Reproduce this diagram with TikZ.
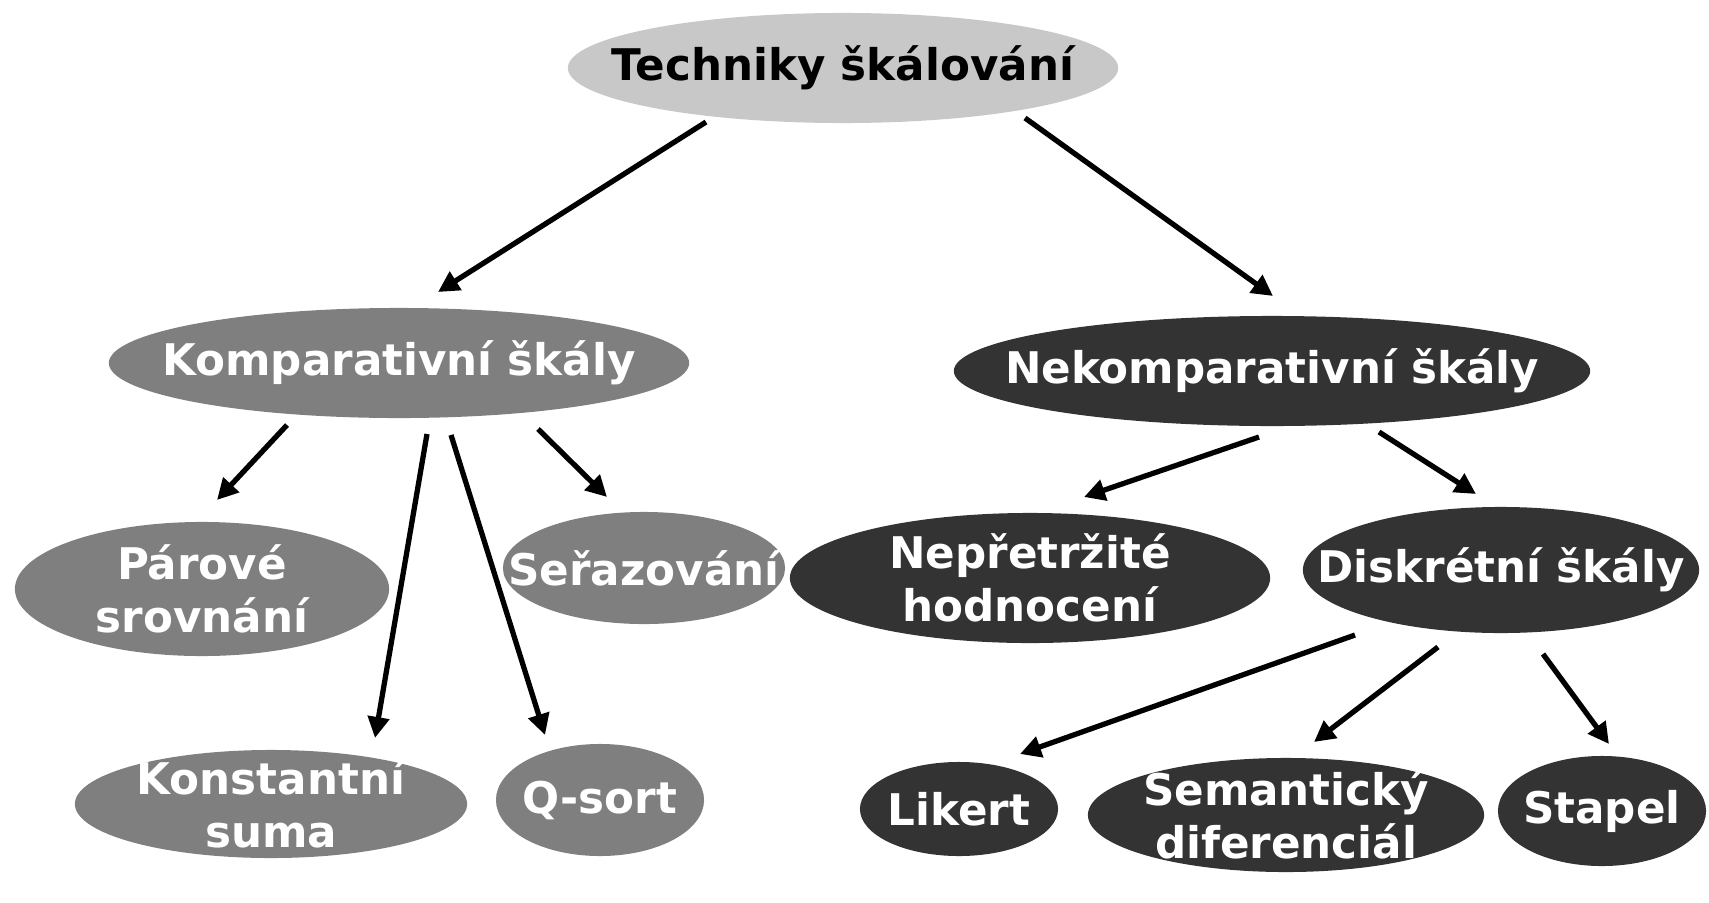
\documentclass[tikz,border=0pt]{standalone}
\usepackage{fontspec}
\setmainfont{DejaVu Sans}
\usepackage{xcolor}
\usepackage{tikz}
\usetikzlibrary{arrows.meta,shapes.geometric}
\definecolor{rootfill}{HTML}{C8C8C8}
\definecolor{compfill}{HTML}{7F7F7F}
\definecolor{ncompfill}{HTML}{333333}

\begin{document}
\begin{tikzpicture}[
  x=0.01cm,y=-0.01cm,
  font=\fontsize{12.4}{15}\selectfont\bfseries,
  ell/.style={ellipse,inner sep=0pt},
  root/.style={ell,fill=rootfill},
  comp/.style={ell,fill=compfill},
  ncomp/.style={ell,fill=ncompfill},
  txt/.style={align=center,inner sep=0pt},
  wtxt/.style={txt,text=white},
  flow/.style={-{Triangle[length=2.1mm,width=2.1mm]},draw=black,line width=1.5pt},
]
\useasboundingbox (0,0) rectangle (1709,903);

% --- root
\node[root,minimum width=5.5cm,minimum height=1.1cm,label={[txt]center:Techniky škálování}] (tech) at (843,68) {};

% --- second level
\node[comp,minimum width=5.8cm,minimum height=1.1cm,label={[wtxt]center:Komparativní škály}] (komp) at (399,363) {};
\node[ncomp,minimum width=6.36cm,minimum height=1.1cm,label={[wtxt]center:Nekomparativní škály}] (nekomp) at (1272,371) {};

% --- comparative scales
\node[comp,minimum width=3.74cm,minimum height=1.34cm,label={[wtxt]center:Párové\\srovnání}] (parove) at (202,589) {};
\node[comp,minimum width=2.82cm,minimum height=1.12cm,label={[wtxt]center:Seřazování}] (serazovani) at (644,568) {};
\node[comp,minimum width=3.92cm,minimum height=1.08cm,label={[wtxt]center:Konstantní\\suma}] (konst) at (271,804) {};
\node[comp,minimum width=2.08cm,minimum height=1.12cm,label={[wtxt]center:Q-sort}] (qsort) at (600,800) {};

% --- non-comparative scales
\node[ncomp,minimum width=4.8cm,minimum height=1.3cm,label={[wtxt]center:Nepřetržité\\hodnocení}] (nepretrzite) at (1030,578) {};
\node[ncomp,minimum width=3.96cm,minimum height=1.26cm,label={[wtxt]center:Diskrétní škály}] (diskretni) at (1501,570) {};
\node[ncomp,minimum width=1.98cm,minimum height=0.94cm,label={[wtxt]center:Likert}] (likert) at (959,809) {};
\node[ncomp,minimum width=3.96cm,minimum height=1.14cm,label={[wtxt]center:Semantický\\diferenciál}] (semanticky) at (1286,815) {};
\node[ncomp,minimum width=2.08cm,minimum height=1.1cm,label={[wtxt]center:Stapel}] (stapel) at (1602,811) {};

\draw[flow] ([shift={(-137,54)}]tech.center) -- ([shift={(39,-71)}]komp.center);
\draw[flow] ([shift={(182,50)}]tech.center) -- ([shift={(1,-75)}]nekomp.center);
\draw[flow] ([shift={(-112,62)}]komp.center) -- ([shift={(15,-89)}]parove.center);
\draw[flow] ([shift={(28,71)}]komp.center) -- ([shift={(104,-66)}]konst.center);
\draw[flow] ([shift={(52,72)}]komp.center) -- ([shift={(-55,-65)}]qsort.center);
\draw[flow] ([shift={(139,66)}]komp.center) -- ([shift={(-37,-71)}]serazovani.center);
\draw[flow] ([shift={(-13,66)}]nekomp.center) -- ([shift={(54,-81)}]nepretrzite.center);
\draw[flow] ([shift={(107,61)}]nekomp.center) -- ([shift={(-25,-76)}]diskretni.center);
\draw[flow] ([shift={(-146,65)}]diskretni.center) -- ([shift={(61,-55)}]likert.center);
\draw[flow] ([shift={(-63,77)}]diskretni.center) -- ([shift={(28,-73)}]semanticky.center);
\draw[flow] ([shift={(42,84)}]diskretni.center) -- ([shift={(7,-67)}]stapel.center);
\end{tikzpicture}
\end{document}
